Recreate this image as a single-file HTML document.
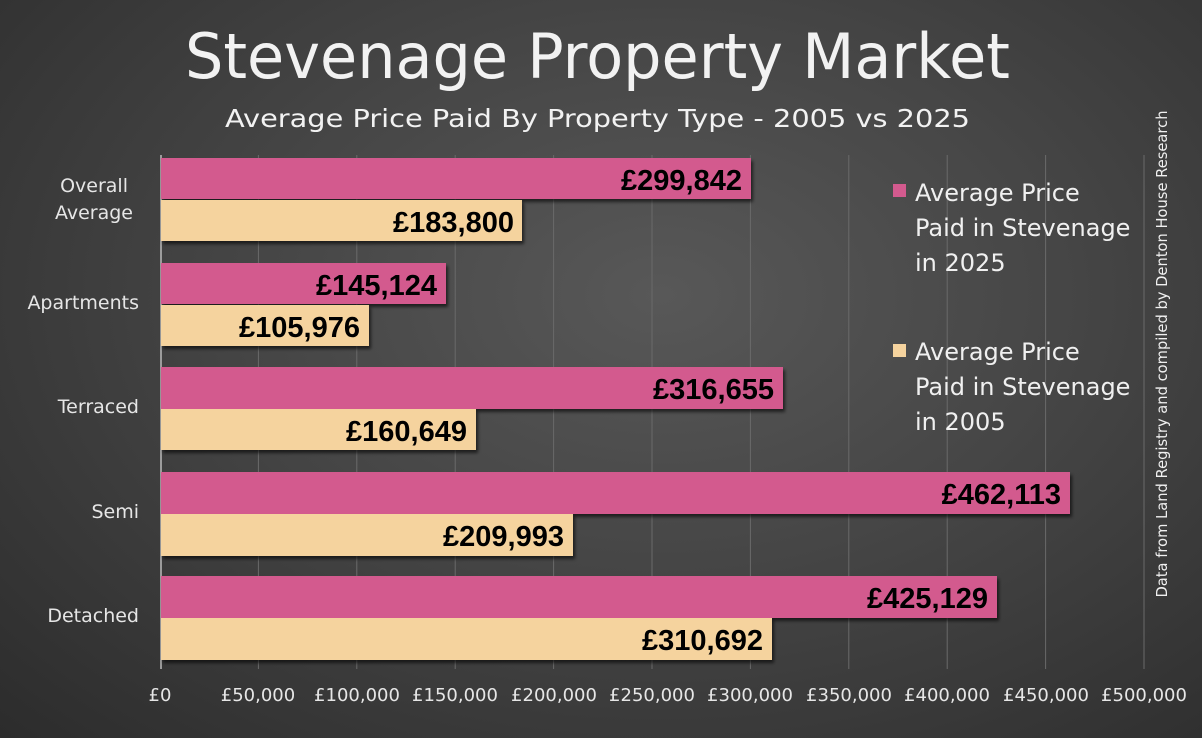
<!DOCTYPE html>
<html><head><meta charset="utf-8"><style>
html,body{margin:0;padding:0;}
body{width:1202px;height:738px;overflow:hidden;background:radial-gradient(ellipse at 55% 40%,#585858 0%,#454545 45%,#2c2c2c 100%);font-family:"Liberation Sans",sans-serif;}
svg{position:absolute;left:0;top:0;}
</style></head><body>
<svg width="1202" height="738" viewBox="0 0 1202 738">
<defs><filter id="sh" x="-5%" y="-20%" width="110%" height="150%"><feDropShadow dx="2" dy="3" stdDeviation="1.5" flood-color="#000" flood-opacity="0.6"/></filter></defs>
<text x="185" y="78" font-size="62" fill="#f2f2f2" font-family="DejaVu Sans,sans-serif" textLength="825" lengthAdjust="spacingAndGlyphs">Stevenage Property Market</text>
<text x="225" y="127" font-size="25" fill="#f2f2f2" font-family="DejaVu Sans,sans-serif" textLength="745" lengthAdjust="spacingAndGlyphs">Average Price Paid By Property Type - 2005 vs 2025</text>
<g stroke="#6a6a6a" stroke-width="1">
<line x1="258.4" y1="155" x2="258.4" y2="669"/><line x1="356.8" y1="155" x2="356.8" y2="669"/><line x1="455.2" y1="155" x2="455.2" y2="669"/><line x1="553.6" y1="155" x2="553.6" y2="669"/><line x1="652" y1="155" x2="652" y2="669"/><line x1="750.4" y1="155" x2="750.4" y2="669"/><line x1="848.8" y1="155" x2="848.8" y2="669"/><line x1="947.2" y1="155" x2="947.2" y2="669"/><line x1="1045.6" y1="155" x2="1045.6" y2="669"/><line x1="1144" y1="155" x2="1144" y2="669"/>
</g>
<line x1="161" y1="155" x2="161" y2="669" stroke="#bbb" stroke-width="1.5"/>
<g filter="url(#sh)">
<rect x="161" y="158" width="590" height="41" fill="#D35A8E"/>
<rect x="161" y="200" width="361" height="41" fill="#F5D39E"/>
<rect x="161" y="263" width="285" height="41" fill="#D35A8E"/>
<rect x="161" y="305" width="208" height="41" fill="#F5D39E"/>
<rect x="161" y="367" width="622" height="42" fill="#D35A8E"/>
<rect x="161" y="409" width="315" height="41" fill="#F5D39E"/>
<rect x="161" y="472" width="909" height="42" fill="#D35A8E"/>
<rect x="161" y="514" width="412" height="42" fill="#F5D39E"/>
<rect x="161" y="576" width="836" height="42" fill="#D35A8E"/>
<rect x="161" y="618" width="611" height="42" fill="#F5D39E"/>
</g>
<g font-size="29" font-weight="bold" fill="#000" font-family="Liberation Sans,sans-serif" text-anchor="end">
<text x="742" y="190">£299,842</text><text x="514" y="232">£183,800</text>
<text x="437" y="295">£145,124</text><text x="360" y="337">£105,976</text>
<text x="774" y="399">£316,655</text><text x="467" y="441">£160,649</text>
<text x="1061" y="504">£462,113</text><text x="564" y="546">£209,993</text>
<text x="988" y="608">£425,129</text><text x="763" y="650">£310,692</text>
</g>
<g font-size="19" fill="#e6e6e6" text-anchor="end" font-family="DejaVu Sans,sans-serif">
<text x="128" y="192">Overall</text><text x="133" y="219">Average</text>
<text x="139" y="309">Apartments</text><text x="139" y="413">Terraced</text>
<text x="139" y="518">Semi</text><text x="139" y="622">Detached</text>
</g>
<g font-size="18" fill="#e6e6e6" text-anchor="middle" font-family="DejaVu Sans,sans-serif">
<text x="160" y="701">£0</text><text x="258" y="701">£50,000</text><text x="357" y="701">£100,000</text><text x="455" y="701">£150,000</text><text x="554" y="701">£200,000</text><text x="652" y="701">£250,000</text><text x="750" y="701">£300,000</text><text x="849" y="701">£350,000</text><text x="947" y="701">£400,000</text><text x="1046" y="701">£450,000</text><text x="1144" y="701">£500,000</text>
</g>
<rect x="893" y="184" width="13" height="13" fill="#D35A8E"/>
<rect x="893" y="344" width="13" height="13" fill="#F5D39E"/>
<g font-size="24" fill="#f0f0f0" font-family="DejaVu Sans,sans-serif">
<text x="915" y="201">Average Price</text><text x="915" y="236">Paid in Stevenage</text><text x="915" y="271">in 2025</text>
<text x="915" y="360">Average Price</text><text x="915" y="395">Paid in Stevenage</text><text x="915" y="430">in 2005</text>
</g>
<text transform="translate(1167,354) rotate(-90)" text-anchor="middle" font-size="15" fill="#f0f0f0" font-family="DejaVu Sans,sans-serif" textLength="487" lengthAdjust="spacingAndGlyphs">Data from Land Registry and compiled by Denton House Research</text>
</svg>
</body></html>
